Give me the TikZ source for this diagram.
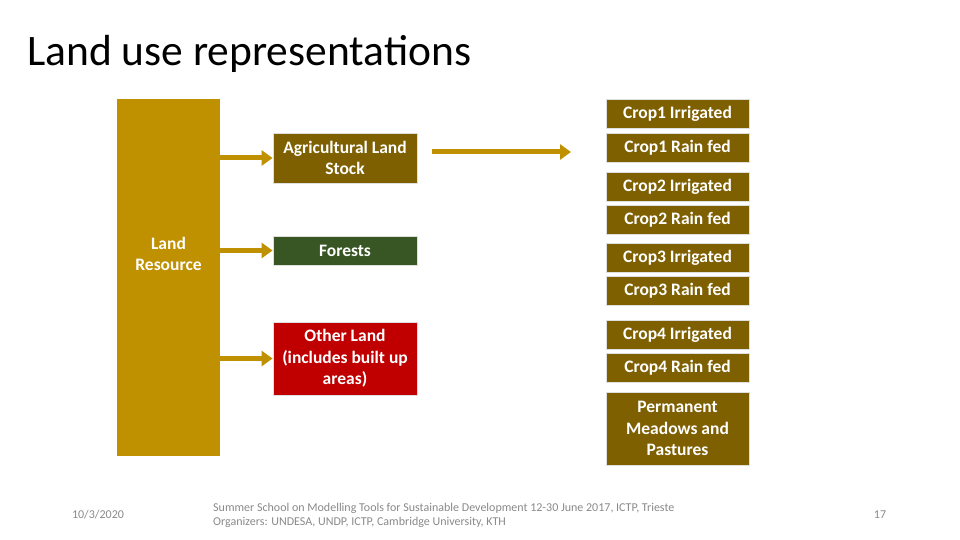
\documentclass[tikz,border=0pt]{standalone}
\usepackage{fontspec}
\setmainfont{Carlito}
\usetikzlibrary{arrows.meta,positioning}
\definecolor{land_gold}{RGB}{191, 144, 0}
\definecolor{stock_brown}{RGB}{127, 96, 0}
\definecolor{forest_green}{RGB}{55, 86, 35}
\definecolor{other_red}{RGB}{192, 0, 0}
\definecolor{foot_gray}{RGB}{137, 137, 137}

\begin{document}
\begin{tikzpicture}[
    x=1pt, y=-1pt,
    font=\fontsize{17.5}{21.5}\selectfont\bfseries,
    % Styles
    box_base/.style={
        rectangle, draw=white!75!gray, line width=0.8pt, text=white, align=center, inner sep=2pt
    },
    use_box/.style={
        box_base, fill=stock_brown, minimum width=144pt, minimum height=50pt
    },
    crop_box/.style={
        box_base, fill=stock_brown, minimum width=143pt, minimum height=29pt
    },
    flow_arrow/.style={
        draw=land_gold, line width=5pt, -{Triangle[length=11pt,width=15pt]}
    },
    foot_text/.style={
        font=\fontsize{12}{14}\selectfont, text=foot_gray, align=left, inner sep=0pt
    }
]
\useasboundingbox (0,0) rectangle (960,540);

% 1. Title
\node[anchor=base west, inner sep=0pt, font=\fontsize{43.5}{50}\selectfont] (title) at (27,66) {Land use representations};

% 2. Land resource column
\node[rectangle, fill=land_gold, minimum width=103pt, minimum height=357pt, inner sep=0pt] (landres) at (168.5,277.5) {};
\node[text=white, align=center] (landlbl) at (168.5,254) {Land\\Resource};

% 3. Land uses
\node[use_box] (agri) at (345,158) {Agricultural Land\\Stock};
\node[use_box, fill=forest_green, minimum height=29pt] (forest) at (345,250.5) {Forests};
\node[use_box, fill=other_red, minimum height=73pt] (other) at (345,358.5) {Other Land\\(includes built up\\areas)};

% 4. Crop breakdown
\node[crop_box] (c1i) at (677.5,114) {Crop1 Irrigated};
\node[crop_box] (c1r) at (677.5,147.5) {Crop1 Rain fed};
\node[crop_box] (c2i) at (677.5,186.5) {Crop2 Irrigated};
\node[crop_box] (c2r) at (677.5,219.5) {Crop2 Rain fed};
\node[crop_box] (c3i) at (677.5,257.5) {Crop3 Irrigated};
\node[crop_box] (c3r) at (677.5,290.5) {Crop3 Rain fed};
\node[crop_box] (c4i) at (677.5,334.5) {Crop4 Irrigated};
\node[crop_box] (c4r) at (677.5,367.5) {Crop4 Rain fed};
\node[crop_box, minimum height=73pt] (pasture) at (677.5,428.5) {Permanent\\Meadows and\\Pastures};

% --- Connections ---
\draw[flow_arrow] (landres.east |- agri.west) -- (agri.west);
\draw[flow_arrow] (landres.east |- forest.west) -- (forest.west);
\draw[flow_arrow] (landres.east |- other.west) -- (other.west);
\coordinate (agri_out) at (432,152);
\coordinate (crop_in) at (571,152);
\draw[flow_arrow] (agri_out) -- (crop_in);

% 5. Footer
\node[foot_text, anchor=center] (date) at (98,515) {10/3/2020};
\node[foot_text, anchor=west] (school) at (213,515) {Summer School on Modelling Tools for Sustainable Development 12-30 June 2017, ICTP, Trieste\\Organizers: UNDESA, UNDP, ICTP, Cambridge University, KTH};
\node[foot_text, anchor=center] (page) at (880,515) {17};

\end{tikzpicture}
\end{document}
